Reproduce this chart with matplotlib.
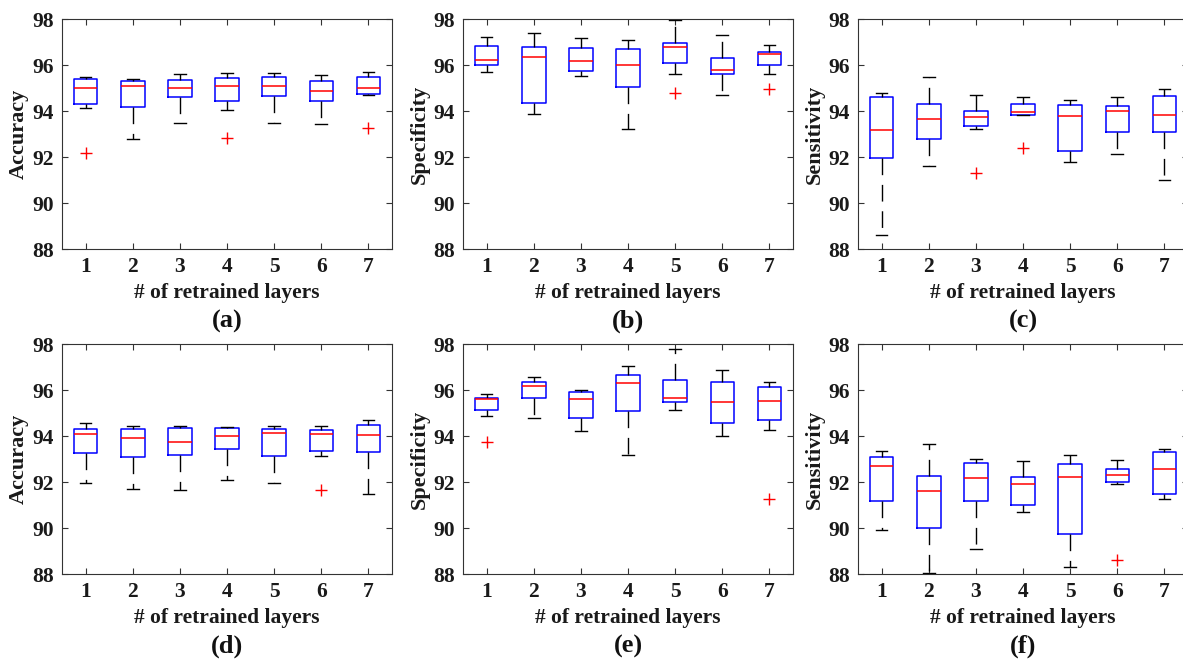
import numpy as np
import matplotlib
matplotlib.use('Agg')
import matplotlib.pyplot as plt

plt.rcParams['font.family'] = ['Liberation Serif', 'DejaVu Serif']
plt.rcParams['font.weight'] = 'bold'

## ========= data =========
layers = [1, 2, 3, 4, 5, 6, 7]
panel_tags = ['(a)', '(b)', '(c)', '(d)', '(e)', '(f)']
y_labels = ['Accuracy', 'Specificity', 'Sensitivity',
            'Accuracy', 'Specificity', 'Sensitivity']

# one row per panel (a..f), one value per number of retrained layers
whisk_low = [
    [94.12, 92.78, 93.49, 94.03, 93.48, 93.42, 94.71],
    [95.70, 93.88, 95.54, 93.23, 95.59, 94.71, 95.59],
    [88.62, 91.61, 93.20, 93.83, 91.80, 92.13, 91.01],
    [91.97, 91.70, 91.64, 92.07, 91.96, 93.13, 91.48],
    [94.88, 94.77, 94.22, 93.19, 95.13, 94.01, 94.25],
    [89.93, 88.03, 89.07, 90.70, 88.29, 91.93, 91.28],
]
q1 = [
    [94.29, 94.19, 94.62, 94.45, 94.65, 94.45, 94.74],
    [96.00, 94.33, 95.74, 95.06, 96.09, 95.59, 96.00],
    [91.96, 92.80, 93.35, 93.83, 92.28, 93.07, 93.07],
    [93.25, 93.07, 93.17, 93.45, 93.12, 93.33, 93.29],
    [95.12, 95.67, 94.77, 95.09, 95.48, 94.55, 94.68],
    [91.19, 90.01, 91.16, 91.00, 89.75, 91.99, 91.49],
]
median = [
    [95.01, 95.07, 95.01, 95.10, 95.10, 94.87, 95.01],
    [96.23, 96.33, 96.16, 95.99, 96.80, 95.77, 96.46],
    [93.19, 93.64, 93.72, 93.96, 93.80, 94.00, 93.81],
    [94.07, 93.93, 93.75, 94.00, 94.14, 94.10, 94.06],
    [95.62, 96.17, 95.59, 96.29, 95.65, 95.46, 95.54],
    [92.71, 91.62, 92.19, 91.91, 92.20, 92.30, 92.55],
]
q3 = [
    [95.38, 95.32, 95.35, 95.43, 95.49, 95.32, 95.46],
    [96.84, 96.80, 96.75, 96.70, 96.94, 96.32, 96.57],
    [94.61, 94.29, 94.01, 94.32, 94.26, 94.20, 94.64],
    [94.32, 94.29, 94.35, 94.35, 94.32, 94.25, 94.49],
    [95.64, 96.36, 95.91, 96.64, 96.45, 96.33, 96.13],
    [93.10, 92.28, 92.83, 92.23, 92.80, 92.58, 93.30],
]
whisk_high = [
    [95.46, 95.41, 95.62, 95.67, 95.64, 95.57, 95.68],
    [97.20, 97.39, 97.16, 97.07, 97.94, 97.30, 96.88],
    [94.80, 95.49, 94.71, 94.59, 94.46, 94.62, 94.94],
    [94.55, 94.43, 94.45, 94.41, 94.45, 94.45, 94.70],
    [95.81, 96.57, 96.01, 97.06, 97.80, 96.86, 96.36],
    [93.36, 93.67, 93.01, 92.91, 93.17, 92.94, 93.42],
]
outliers = [
    [[92.17], [], [], [92.81], [], [], [93.28]],
    [[], [], [], [], [94.80], [], [94.96]],
    [[], [], [91.32], [92.39], [], [], []],
    [[], [], [], [], [], [91.64], []],
    [[93.72], [], [], [], [], [], [91.25]],
    [[], [], [], [], [], [88.59], []],
]

## ========= figure =========
W, H = 1183, 664
fig = plt.figure(figsize=(W / 100, H / 100), dpi=100)
lefts = [62, 463, 858]
tops = [19, 344]
ax_w, ax_h = 330, 230

for i in range(6):
    r, c = divmod(i, 3)
    ax = fig.add_axes([lefts[c] / W, 1 - (tops[r] + ax_h) / H, ax_w / W, ax_h / H])
    stats = []
    for k in range(len(layers)):
        stats.append(dict(med=median[i][k], q1=q1[i][k], q3=q3[i][k],
                          whislo=whisk_low[i][k], whishi=whisk_high[i][k],
                          fliers=outliers[i][k]))
    ax.bxp(stats, positions=layers, widths=0.5, capwidths=0.25,
           boxprops=dict(color='#0000ff', lw=1.1),
           medianprops=dict(color='#ff0000', lw=1.1),
           whiskerprops=dict(color='k', lw=1, linestyle=(0, (12, 7))),
           capprops=dict(color='k', lw=1),
           flierprops=dict(marker='+', markeredgecolor='#ff0000', markersize=9,
                           markeredgewidth=1, linestyle='none'))
    ax.set_xlim(0.5, 7.5)
    ax.set_ylim(88, 98)
    ax.set_xticks(layers)
    ax.set_xticklabels([str(v) for v in layers])
    ax.set_yticks(range(88, 99, 2))
    ax.tick_params(direction='in', top=True, right=True, length=4, width=0.8,
                   labelsize=15.5, pad=6, color='#333333', labelcolor='#1a1a1a')
    for s in ax.spines.values():
        s.set_color('#333333')
        s.set_linewidth(0.8)
    ax.set_xlabel('# of retrained layers', fontsize=15.5, fontweight='bold',
                  labelpad=4, color='#1a1a1a')
    ax.set_ylabel(y_labels[i], fontsize=16, fontweight='bold', labelpad=2,
                  color='#1a1a1a')
    ax.text(0.5, -0.315, panel_tags[i], transform=ax.transAxes, ha='center',
            va='center', fontsize=19, fontweight='bold', color='#111111')

fig.savefig('out.png', dpi=100)
